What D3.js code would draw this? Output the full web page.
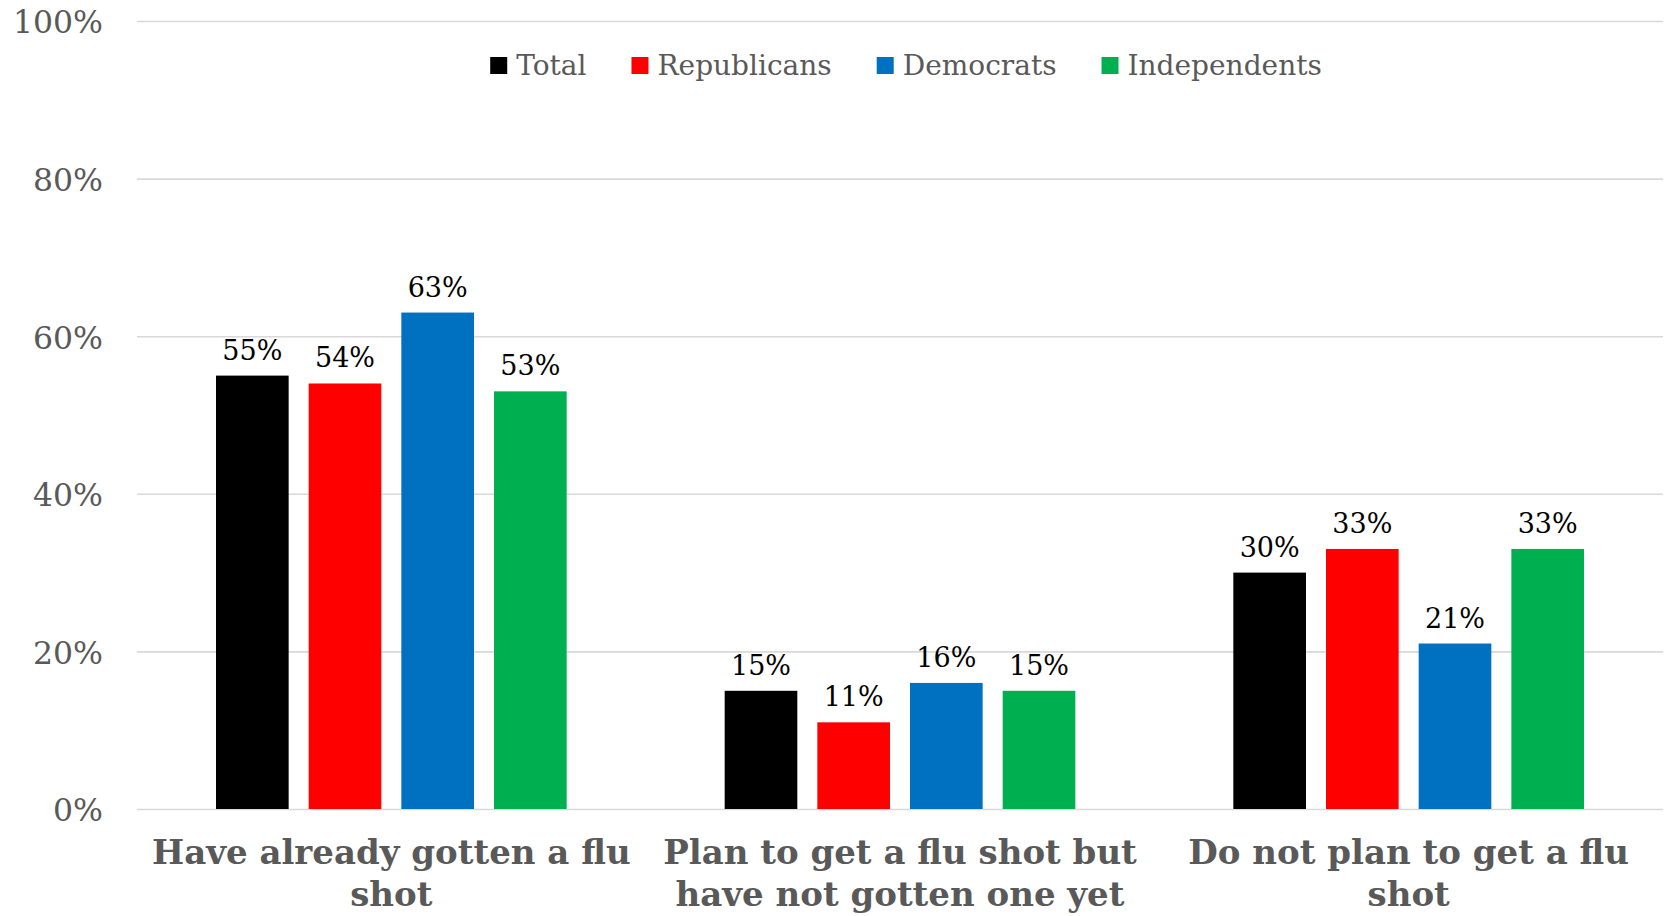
<!DOCTYPE html>
<html>
<head>
<meta charset="utf-8">
<script src="https://cdn.jsdelivr.net/npm/d3@7"></script>
<style>
  html, body { margin: 0; padding: 0; background: #fff; }
  svg { display: block; }
</style>
</head>
<body>
<svg id="chart" width="1667" height="916"></svg>
<script>
// ---- data ----
const categories = [
  "Have already gotten a flu shot",
  "Plan to get a flu shot but have not gotten one yet",
  "Do not plan to get a flu shot"
];
const seriesNames = ["Total", "Republicans", "Democrats", "Independents"];
const totalValues = [55, 15, 30];
const republicanValues = [54, 11, 33];
const democratValues = [63, 16, 21];
const independentValues = [53, 15, 33];
const yTicks = [0, 20, 40, 60, 80, 100];
const seriesColors = ["#000000", "#FF0000", "#0070C0", "#00B050"];

const seriesValues = [totalValues, republicanValues, democratValues, independentValues];

// ---- layout ----
const svg = d3.select("#chart");
const serif = "'DejaVu Serif', 'Liberation Serif', Georgia, serif";
const plotLeft = 137, plotRight = 1663, plotTop = 21, plotBottom = 809;

const x0 = d3.scaleBand().domain(categories).range([plotLeft, plotRight]);
const x1 = d3.scaleBand().domain(seriesNames)
  .range([79, x0.bandwidth() - 79]).paddingInner(0.216);
const y = d3.scaleLinear().domain([0, 100]).range([plotBottom, plotTop]);

// gridlines
const yAxis = d3.axisLeft(y).tickValues(yTicks).tickFormat(d => d + "%")
  .tickSize(-(plotRight - plotLeft)).tickPadding(34);
const gAxis = svg.append("g").attr("transform", `translate(${plotLeft},0)`).call(yAxis);
gAxis.select(".domain").remove();
gAxis.selectAll(".tick line").attr("stroke", "#D9D9D9").attr("stroke-width", 1.6);
gAxis.selectAll(".tick text")
  .attr("fill", "#595959")
  .attr("font-family", serif)
  .attr("font-size", 31.5)
  .attr("dy", "0.38em");

// bars
const groups = svg.append("g").selectAll("g")
  .data(categories)
  .join("g")
  .attr("transform", d => `translate(${x0(d)},0)`);

groups.each(function(cat, ci) {
  const g = d3.select(this);
  const items = seriesNames.map((s, si) => ({ s, si, v: seriesValues[si][ci] }));
  g.selectAll("rect").data(items).join("rect")
    .attr("x", d => x1(d.s))
    .attr("y", d => y(d.v))
    .attr("width", x1.bandwidth())
    .attr("height", d => y(0) - y(d.v))
    .attr("fill", d => seriesColors[d.si]);
  g.selectAll("text.val").data(items).join("text")
    .attr("class", "val")
    .attr("x", d => x1(d.s) + x1.bandwidth() / 2)
    .attr("y", d => y(d.v) - 16)
    .attr("text-anchor", "middle")
    .attr("font-family", serif)
    .attr("font-size", 27)
    .attr("fill", "#000")
    .text(d => d.v + "%");
});

// category labels (wrapped)
const catFont = 34;
const catG = svg.append("g");
categories.forEach(cat => {
  const cx = x0(cat) + x0.bandwidth() / 2;
  const t = catG.append("text")
    .attr("x", cx)
    .attr("y", 864)
    .attr("text-anchor", "middle")
    .attr("font-family", serif)
    .attr("font-weight", "bold")
    .attr("font-size", catFont)
    .attr("fill", "#595959");
  const words = cat.split(" ");
  let line = [];
  let tspan = t.append("tspan").attr("x", cx).attr("dy", 0);
  words.forEach(w => {
    line.push(w);
    tspan.text(line.join(" "));
    if (tspan.node().getComputedTextLength() > x0.bandwidth() - 10 && line.length > 1) {
      line.pop();
      tspan.text(line.join(" "));
      line = [w];
      tspan = t.append("tspan").attr("x", cx).attr("dy", 42).text(w);
    }
  });
});

// legend
const legend = svg.append("g");
let lx = 0;
seriesNames.forEach((s, i) => {
  const item = legend.append("g").attr("transform", `translate(${lx},0)`);
  item.append("rect").attr("x", 0).attr("y", 57).attr("width", 17).attr("height", 17)
    .attr("fill", seriesColors[i]);
  const txt = item.append("text").attr("x", 26).attr("y", 75)
    .attr("font-family", serif).attr("font-size", 28).attr("fill", "#595959").text(s);
  const w = txt.node().getComputedTextLength();
  lx += 26 + w + 45;
});
const legendWidth = lx - 45;
legend.attr("transform", `translate(${906 - legendWidth / 2},0)`);
</script>
</body>
</html>
